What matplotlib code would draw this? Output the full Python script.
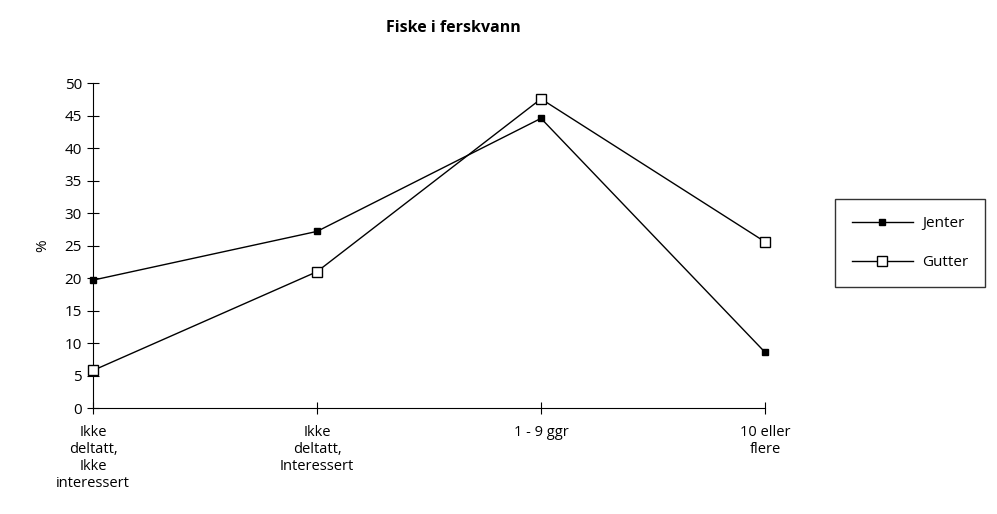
import matplotlib
matplotlib.use("Agg")
import matplotlib.pyplot as plt

categories = ["Ikke\ndeltatt,\nIkke\ninteressert", "Ikke\ndeltatt,\nInteressert",
              "1 - 9 ggr", "10 eller\nflere"]
jenter = [19.7, 27.2, 44.6, 8.6]
gutter = [5.8, 21.0, 47.6, 25.6]
yticks = list(range(0, 55, 5))

plt.rcParams["font.family"] = ["Open Sans", "DejaVu Sans"]

fig = plt.figure(figsize=(9.97, 5.14), dpi=100)
ax = fig.add_axes([0.0933, 0.206, 0.674, 0.632])

x = list(range(len(categories)))
ax.plot(x, jenter, color="black", lw=1.0, marker="s", ms=4.5,
        mfc="black", mec="black", label="Jenter", clip_on=False, zorder=3)
ax.plot(x, gutter, color="black", lw=1.0, marker="s", ms=7,
        mfc="white", mec="black", mew=1.0, label="Gutter", clip_on=False, zorder=3)

ax.set_xlim(0, 3)
ax.set_ylim(0, 50)
ax.set_xticks(x)
ax.set_xticklabels(categories, fontsize=10.5, linespacing=1.2)
ax.set_yticks(yticks)
ax.tick_params(axis="y", direction="inout", length=8, labelsize=11, pad=4)
ax.tick_params(axis="x", direction="inout", length=8, labelsize=10.5, pad=8)
for s in ("top", "right"):
    ax.spines[s].set_visible(False)

ax.set_ylabel("%", fontsize=11, labelpad=10)

fig.text(0.455, 0.945, "Fiske i ferskvann", ha="center", va="center",
         fontsize=11.5, fontweight="bold")

leg = fig.legend(loc="center right", bbox_to_anchor=(0.988, 0.527), frameon=True,
                 fancybox=False, edgecolor="black", fontsize=11,
                 handlelength=4.0, handletextpad=0.6, borderpad=1.1,
                 labelspacing=1.6, borderaxespad=0)
leg.get_frame().set_linewidth(1.0)

fig.savefig("out.png", dpi=100)
